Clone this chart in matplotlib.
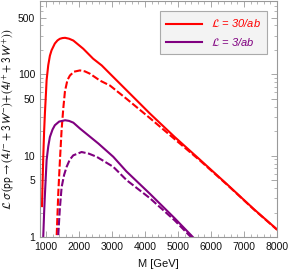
import matplotlib
matplotlib.use('Agg')
import matplotlib.pyplot as plt
from matplotlib.ticker import FixedLocator, MultipleLocator, NullFormatter
from matplotlib.lines import Line2D

plt.rcParams['font.family'] = ['Liberation Sans', 'DejaVu Sans']
plt.rcParams['mathtext.fontset'] = 'stixsans'

# luminosity 30/ab
m_30_solid = [880, 900, 920, 945, 970, 1000, 1020, 1070, 1120, 1170, 1270, 1350, 1420, 1500, 1580,
              1700, 1830, 2130, 2430, 2690, 2940, 3440, 4150, 4900, 5670, 6500, 7300, 8000]
sig_30_solid = [2.4, 5, 10, 20, 34, 58, 85, 130, 170, 198, 240, 262, 274, 280, 282,
                275, 261, 207, 156, 129, 102, 64, 33, 17, 8.9, 4.4, 2.2, 1.24]
m_30_dash = [1300, 1324, 1373, 1424, 1475, 1525, 1576, 1650, 1727, 1850, 2030, 2180, 2333, 2636,
             2939, 3445, 4150, 4900, 5670, 6500, 7300, 8000]
sig_30_dash = [0.8, 1.0, 3.4, 8.8, 21, 38, 62, 85, 97, 108, 112, 109, 102, 84,
               73, 50, 29, 16, 8.7, 4.35, 2.18, 1.23]

# luminosity 3/ab
m_3_solid = [918, 945, 970, 1020, 1070, 1120, 1200, 1270, 1400, 1580, 1700, 1830, 2030, 2590, 3040,
             3440, 4150, 4900, 5450, 5600]
sig_3_solid = [1.0, 2.0, 3.4, 8.8, 13, 17, 21, 23.7, 26.3, 27.3, 26.8, 25.5, 21.6, 14.1, 9.7,
               6.4, 3.4, 1.7, 1.0, 0.85]
m_3_dash = [1350, 1370, 1420, 1475, 1550, 1627, 1720, 1827, 2080, 2300, 2536, 3040, 3445, 4150,
            4900, 5500]
sig_3_dash = [0.8, 1.0, 2.2, 4.1, 5.8, 7.3, 8.9, 10.1, 11.1, 10.6, 9.7, 7.3, 5.0, 3.0,
              1.6, 0.9]

RED = '#ff0000'
PURPLE = '#800080'
FRAME = '#999999'


def main():
    fig = plt.figure(figsize=(2.89, 2.73), dpi=100)
    ax = fig.add_axes([40 / 289, 36 / 273, 237 / 289, 236 / 273])
    lw = 1.5
    dash = (0, (3.5, 1.2))
    ax.plot(m_30_solid, sig_30_solid, color=RED, lw=lw)
    ax.plot(m_30_dash, sig_30_dash, color=RED, lw=lw, ls=dash)
    ax.plot(m_3_solid, sig_3_solid, color=PURPLE, lw=lw)
    ax.plot(m_3_dash, sig_3_dash, color=PURPLE, lw=lw, ls=dash)

    ax.set_yscale('log')
    ax.set_xlim(820, 8000)
    ax.set_ylim(1, 800)

    ax.xaxis.set_major_locator(FixedLocator([1000, 2000, 3000, 4000, 5000, 6000, 7000, 8000]))
    ax.xaxis.set_minor_locator(MultipleLocator(200))
    ax.yaxis.set_major_locator(FixedLocator([1, 5, 10, 50, 100, 500]))
    ax.yaxis.set_major_formatter(matplotlib.ticker.FixedFormatter(['1', '5', '10', '50', '100', '500']))
    minors = [v * d for d in (1, 10, 100) for v in range(2, 10)]
    ax.yaxis.set_minor_locator(FixedLocator(minors))
    ax.yaxis.set_minor_formatter(NullFormatter())

    for s in ax.spines.values():
        s.set_color(FRAME)
        s.set_linewidth(0.8)
    ax.tick_params(which='both', direction='in', top=True, right=True, color=FRAME,
                   labelsize=7.5, labelcolor='#111111')
    ax.tick_params(which='major', length=4, width=0.6)
    ax.tick_params(which='minor', length=2, width=0.5)

    ax.set_xlabel('M [GeV]', fontsize=8, color='#111111', labelpad=5)
    ax.set_ylabel(r'$\mathcal{L}\ \sigma(\mathrm{pp}\rightarrow(4l^{-}+3W^{-})\!+\!(4l^{+}+3W^{+}))$',
                  fontsize=8.4, color='#111111', labelpad=1)

    handles = [Line2D([], [], color=RED, lw=lw), Line2D([], [], color=PURPLE, lw=lw)]
    leg = ax.legend(handles, [r'$\mathcal{L}$ = 30/ab', r'$\mathcal{L}$ = 3/ab'],
                    loc='upper right', bbox_to_anchor=(0.983, 0.982), fontsize=8,
                    fancybox=False, framealpha=1, edgecolor='#aaaaaa', facecolor='#f3f3f3',
                    handlelength=3.2, borderpad=0.6, labelspacing=0.55)
    for t, c in zip(leg.get_texts(), (RED, PURPLE)):
        t.set_color(c)
        t.set_style('italic')
    leg.get_frame().set_linewidth(0.8)

    fig.savefig('out.png', dpi=100)


if __name__ == '__main__':
    main()
